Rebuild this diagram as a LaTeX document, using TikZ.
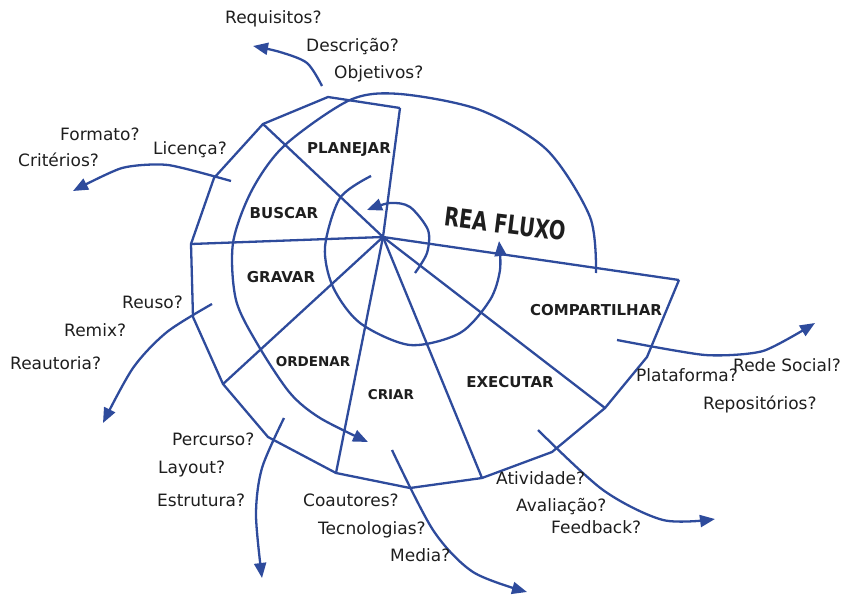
\documentclass[tikz,border=0pt]{standalone}
\usepackage{fontspec}
\setmainfont{DejaVu Sans}
\newfontfamily\titulofonte{DejaVu Sans}[FakeStretch=0.75]
\usepackage{xcolor}
\usepackage{tikz}
\usetikzlibrary{arrows.meta}
\definecolor{azul}{HTML}{2E4B9C}
\definecolor{texto}{HTML}{1E1E1E}
\tikzset{
  linha/.style={azul, line width=2.3pt, line join=round},
  seta/.style={linha, -{Triangle[length=15pt, width=12pt]}},
  etapa/.style={font=\fontsize{15}{18}\selectfont\bfseries, text=texto, inner sep=0pt},
  pergunta/.style={font=\fontsize{17}{20}\selectfont, text=texto, anchor=west,
    inner sep=0pt, text height=1.5ex, text depth=.3ex}
}

\begin{document}
\begin{tikzpicture}[x=1pt, y=-1pt,
  menor/.style={font=\fontsize{13.5}{16}\selectfont\bfseries},
  titulo/.style={font=\titulofonte\fontsize{26}{28}\selectfont\bfseries, rotate=-7}]
  \useasboundingbox (0,0) rectangle (842,596);

  % --- Centro e contorno ---
  \coordinate (c) at (383,237);
  \foreach \n/\x/\y in {1/400/108, 2/328/97, 3/263/124, 4/214/178, 5/191/244,
      6/193/317, 7/223/384, 8/268/437, 9/336/473, 10/410/488, 11/482/478,
      12/552/452, 13/605/408, 14/647/357, 15/679/280} {
    \coordinate (p\n) at (\x,\y);
  }
  \draw[linha] (p15) -- (p14) -- (p13) -- (p12) -- (p11) -- (p10) -- (p9) -- (p8)
    -- (p7) -- (p6) -- (p5) -- (p4) -- (p3) -- (p2) -- (p1);
  % raios
  \foreach \n in {1,3,5,7,9,11,13,15}
    \draw[linha] (c) -- (p\n);

  % --- Espirais ---
  \draw[seta] plot[smooth] coordinates {(596,273) (590,217) (547,150) (480,110)
    (400,94) (350,100) (285,145) (252,190) (233,243) (236,300) (258,345)
    (290,393) (320,418) (368,442)};
  \draw[seta] plot[smooth] coordinates {(371,176) (340,198) (325,247) (333,287)
    (360,323) (410,345) (460,333) (490,300) (500,270) (499,241)};
  \draw[seta] plot[smooth] coordinates {(415,273) (427,253) (428,230) (410,207)
    (390,203) (367,210)};

  % --- Etapas ---
  \node[etapa] (planejar) at (349,150) {PLANEJAR};
  \node[etapa] (buscar) at (284,213) {BUSCAR};
  \node[etapa] (gravar) at (281,277) {GRAVAR};
  \node[etapa, menor] (ordenar) at (313,362) {ORDENAR};
  \node[etapa, menor] (criar) at (391,395) {CRIAR};
  \node[etapa] (executar) at (510,382) {EXECUTAR};
  \node[etapa] (compartilhar) at (596,310) {COMPARTILHAR};
  \node[etapa, titulo] (rea) at (505,224) {REA FLUXO};

  % --- Saidas ---
  \draw[seta] plot[smooth] coordinates {(322,86) (307,63) (280,52) (253,46)};
  \draw[seta] plot[smooth, tension=.4] coordinates {(231,181) (168,165) (122,168) (73,191)};
  \draw[seta] plot[smooth, tension=.5] coordinates {(212,304) (167,332) (133,368) (103,423)};
  \draw[seta] plot[smooth, tension=.5] coordinates {(284,418) (262,468) (256,515) (262,578)};
  \draw[seta] plot[smooth, tension=.5] coordinates {(392,450) (433,530) (473,572) (527,592)};
  \draw[seta] plot[smooth, tension=.5] coordinates {(538,430) (603,490) (663,520) (715,519)};
  \draw[seta] plot[smooth, tension=.4] coordinates {(617,340) (705,355) (763,351) (815,323)};

  % --- Perguntas ---
  \foreach \x/\y/\txt [count=\i] in {225/20/Requisitos?, 306/48/Descrição?,
      334/75/Objetivos?, 60/137/Formato?, 18/163/Critérios?, 153/151/Licença?,
      122/305/Reuso?, 64/333/Remix?, 10/366/Reautoria?, 172/442/Percurso?,
      158/470/Layout?, 157/503/Estrutura?, 303/503/Coautores?,
      318/531/Tecnologias?, 390/558/Media?, 496/481/Atividade?,
      516/508/Avaliação?, 551/530/Feedback?, 636/378/Plataforma?,
      733/368/Rede Social?, 703/406/Repositórios?} {
    \node[pergunta] (q\i) at (\x,\y) {\txt};
  }

\end{tikzpicture}
\end{document}
